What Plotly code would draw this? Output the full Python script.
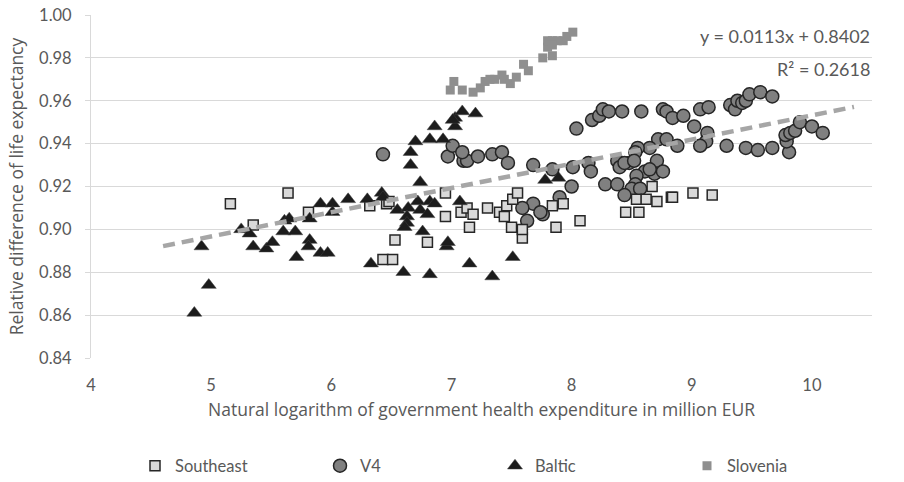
import plotly.graph_objects as go

# ---- data -------------------------------------------------------------
southeast_x = [5.16, 5.64, 5.35, 5.81, 6.32, 6.46, 6.48, 6.95, 6.95, 7.08,
               7.13, 7.18, 7.15, 6.53, 6.80, 6.43, 6.51, 7.30, 7.40, 7.44,
               7.46, 7.51, 7.55, 7.50, 7.59, 7.59, 7.84, 7.93, 7.87, 8.07,
               8.67, 8.54, 8.62, 8.71, 8.83, 8.84, 9.01, 9.17, 8.45, 8.56]
southeast_y = [0.912, 0.917, 0.902, 0.908, 0.911, 0.912, 0.913, 0.917, 0.906, 0.908,
               0.910, 0.907, 0.901, 0.895, 0.894, 0.886, 0.886, 0.910, 0.908, 0.906,
               0.911, 0.914, 0.917, 0.901, 0.896, 0.900, 0.911, 0.912, 0.901, 0.904,
               0.920, 0.914, 0.914, 0.913, 0.915, 0.915, 0.917, 0.916, 0.908, 0.908]

v4_x = [8.04, 8.17, 8.23, 8.26, 8.31, 8.42, 8.58, 8.76, 8.79, 8.84,
        8.93, 9.02, 9.07, 9.14, 9.32, 9.36, 9.38, 9.42, 9.45, 9.48,
        9.57, 9.67,
        9.13, 9.12, 9.07, 9.29, 9.45, 9.55, 9.67, 9.81, 9.79, 9.78,
        9.82, 9.86, 9.90, 10.00, 10.09,
        8.72, 8.79, 8.88, 8.65, 8.55, 8.53, 8.48, 8.38, 8.40, 8.44,
        8.52, 8.61, 8.71, 8.69, 8.76, 8.54, 8.53, 8.50, 8.44, 8.28,
        8.38, 8.14, 8.16, 8.01, 8.00, 7.90, 8.57, 8.65,
        6.43, 6.97, 7.01, 7.10, 7.13, 7.09, 7.22, 7.34, 7.42, 7.47,
        7.68, 7.84, 7.68, 7.59, 7.63, 7.76, 7.74]
v4_y = [0.947, 0.951, 0.953, 0.956, 0.955, 0.955, 0.955, 0.956, 0.955, 0.952,
        0.953, 0.948, 0.956, 0.957, 0.958, 0.956, 0.960, 0.959, 0.960, 0.963,
        0.964, 0.962,
        0.945, 0.941, 0.939, 0.939, 0.938, 0.937, 0.938, 0.936, 0.941, 0.944,
        0.945, 0.946, 0.950, 0.948, 0.945,
        0.942, 0.942, 0.939, 0.938, 0.938, 0.936, 0.931, 0.932, 0.929, 0.931,
        0.932, 0.927, 0.932, 0.926, 0.927, 0.925, 0.921, 0.919, 0.916, 0.921,
        0.921, 0.931, 0.927, 0.929, 0.920, 0.915, 0.919, 0.928,
        0.935, 0.934, 0.939, 0.932, 0.932, 0.936, 0.934, 0.935, 0.936, 0.931,
        0.930, 0.928, 0.912, 0.910, 0.904, 0.907, 0.908]

baltic_x = [4.86, 4.98, 4.92, 5.25, 5.32, 5.35, 5.46, 5.51, 5.60, 5.61,
            5.65, 5.70, 5.71, 5.82, 5.81, 5.82, 5.91, 6.01, 6.01, 5.91,
            5.97, 6.14, 6.30, 6.42, 6.43, 6.33, 6.55, 6.64, 6.63, 6.63,
            6.61, 6.60, 6.66, 6.66, 6.74, 6.72, 6.74, 6.80, 6.82, 6.86,
            6.76, 6.82, 6.96, 6.97, 7.07, 7.15, 7.34, 7.51, 7.78, 7.89,
            6.70, 6.86, 6.82, 6.93, 7.03, 7.09, 7.03, 7.20, 7.01]
baltic_y = [0.861, 0.874, 0.892, 0.900, 0.898, 0.892, 0.891, 0.894, 0.899, 0.904,
            0.905, 0.899, 0.887, 0.895, 0.892, 0.905, 0.912, 0.912, 0.908, 0.889,
            0.889, 0.914, 0.914, 0.917, 0.915, 0.884, 0.909, 0.910, 0.906, 0.903,
            0.901, 0.880, 0.936, 0.930, 0.922, 0.913, 0.909, 0.907, 0.913, 0.912,
            0.899, 0.879, 0.892, 0.894, 0.913, 0.884, 0.878, 0.887, 0.923, 0.924,
            0.941, 0.948, 0.942, 0.942, 0.952, 0.955, 0.948, 0.954, 0.951]

slovenia_x = [6.99, 7.02, 7.09, 7.18, 7.24, 7.28, 7.32, 7.36, 7.42, 7.44,
              7.49, 7.54, 7.60, 7.64, 7.76, 7.84, 7.80, 7.80, 7.84, 7.88,
              7.93, 7.96, 8.01, 7.84]
slovenia_y = [0.965, 0.969, 0.965, 0.964, 0.966, 0.969, 0.970, 0.970, 0.972, 0.970,
              0.968, 0.971, 0.977, 0.974, 0.980, 0.981, 0.985, 0.988, 0.988, 0.988,
              0.988, 0.990, 0.992, 0.986]

# linear trend over all groups
trend_slope = 0.0113
trend_intercept = 0.8402
trend_r2 = 0.2618
trend_x = [4.6, 10.35]
trend_y = [trend_slope * v + trend_intercept for v in trend_x]

x_ticks = [4, 5, 6, 7, 8, 9, 10]
y_ticks = [0.84, 0.86, 0.88, 0.90, 0.92, 0.94, 0.96, 0.98, 1.00]

# ---- styling ------------------------------------------------------------
TXT = "#595959"
GRID = "#d9d9d9"
TICK_FONT = dict(family="Lato", size=16.5, color=TXT)
TITLE_FONT = dict(family="Open Sans", size=17.5, color=TXT)

fig = go.Figure()

fig.add_trace(go.Scatter(
    x=v4_x, y=v4_y, mode="markers", name="V4", legend="legend2",
    marker=dict(symbol="circle", size=13, color="#808080",
                line=dict(color="#262626", width=1.5)),
))
fig.add_trace(go.Scatter(
    x=southeast_x, y=southeast_y, mode="markers", name="Southeast", legend="legend",
    marker=dict(symbol="square", size=10, color="#d9d9d9",
                line=dict(color="#262626", width=1.5)),
))
fig.add_trace(go.Scatter(
    x=baltic_x, y=baltic_y, mode="markers", name="Baltic", legend="legend3",
    marker=dict(symbol="triangle-up", size=13, color="#1c1c1c",
                line=dict(color="#404040", width=0.5)),
))
fig.add_trace(go.Scatter(
    x=slovenia_x, y=slovenia_y, mode="markers", name="Slovenia", legend="legend4",
    marker=dict(symbol="square", size=9, color="#8f8f8f", line=dict(width=0)),
))
fig.add_trace(go.Scatter(
    x=trend_x, y=trend_y, mode="lines", showlegend=False, hoverinfo="skip",
    line=dict(color="#a6a6a6", width=4.5, dash="12px,7px"),
))

# plot area spans pixels 91..872 horizontally, 15..358 vertically
PL, PR, PT, PB = 91, 872, 15, 358
W, H = 904, 482


def px_to_paper_x(px):
    return (px - PL) / (PR - PL)


def px_to_paper_y(py):
    return (PB - py) / (PB - PT)


legend_y = px_to_paper_y(466)
legend_common = dict(orientation="h", yanchor="middle", xanchor="left",
                     y=legend_y, font=dict(family="Lato", size=16.5, color=TXT),
                     bgcolor="rgba(0,0,0,0)", itemwidth=30)

fig.update_layout(
    width=W, height=H,
    margin=dict(l=PL, r=W - PR, t=PT, b=H - PB, autoexpand=False),
    paper_bgcolor="white", plot_bgcolor="white",
    legend=dict(x=px_to_paper_x(157 - 22), **legend_common),
    legend2=dict(x=px_to_paper_x(342 - 22), **legend_common),
    legend3=dict(x=px_to_paper_x(517 - 22), **legend_common),
    legend4=dict(x=px_to_paper_x(709 - 22), **legend_common),
    xaxis=dict(
        range=[4, 10.5], tickvals=x_ticks, ticktext=[str(v) for v in x_ticks],
        showgrid=False, zeroline=False, showline=False, automargin=False,
        ticks="", ticklabelstandoff=15, tickfont=TICK_FONT,
        title=dict(text="Natural logarithm of government health expenditure in million EUR",
                   font=TITLE_FONT, standoff=10),
    ),
    yaxis=dict(
        range=[0.84, 1.0], tickvals=y_ticks, ticktext=[f"{v:.2f}" for v in y_ticks],
        showgrid=True, gridcolor=GRID, gridwidth=1, zeroline=False, automargin=False,
        showline=True, linecolor=GRID, linewidth=1,
        ticks="outside", ticklen=5, tickcolor=GRID, ticklabelstandoff=10,
        tickfont=TICK_FONT,
        title=dict(text="Relative difference of life expectancy",
                   font=TITLE_FONT, standoff=10),
    ),
    annotations=[
        dict(text=f"y = {trend_slope}x + {trend_intercept}", xref="paper", yref="paper",
             x=1.0, y=px_to_paper_y(36), xanchor="right", yanchor="middle",
             showarrow=False, font=dict(family="Lato", size=18, color=TXT)),
        dict(text=f"R² = {trend_r2}", xref="paper", yref="paper",
             x=1.0, y=px_to_paper_y(69), xanchor="right", yanchor="middle",
             showarrow=False, font=dict(family="Lato", size=18, color=TXT)),
    ],
)

fig.write_html("out.html")
